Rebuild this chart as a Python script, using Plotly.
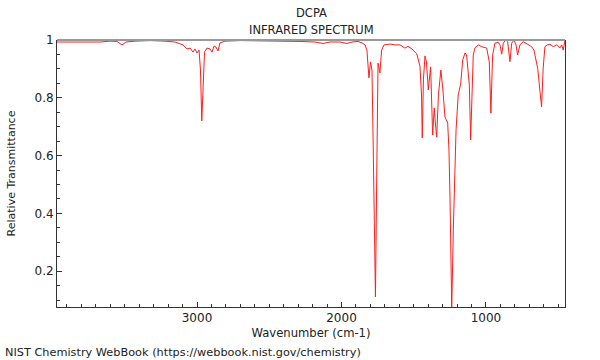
import plotly.graph_objects as go

wavenumber = [3969, 3879, 3775, 3671, 3602, 3554, 3519, 3491, 3429, 3325, 3221, 3152, 3097, 3069, 3048,
              3028, 3014, 3000, 2986, 2976, 2967, 2958, 2948, 2931, 2910, 2896, 2882, 2869, 2855, 2841,
              2806, 2702, 2564, 2426, 2287, 2183, 2128, 2080, 2010, 1962, 1927, 1886, 1858, 1837, 1824,
              1810, 1799, 1789, 1779, 1765, 1754, 1747, 1734, 1722, 1706, 1664, 1630, 1595, 1561, 1540,
              1512, 1479, 1457, 1446, 1441, 1433, 1422, 1412, 1399, 1383, 1369, 1358, 1349, 1341, 1329,
              1312, 1298, 1284, 1265, 1256, 1249, 1237, 1226, 1214, 1207, 1192, 1175, 1161, 1145, 1134,
              1121, 1115, 1106, 1097, 1088, 1076, 1053, 1030, 995, 977, 966, 954, 938, 915, 903,
              891, 880, 864, 850, 834, 822, 806, 792, 781, 765, 742, 707, 684, 668, 654,
              642, 626, 615, 604, 592, 576, 557, 534, 511, 488, 476, 465, 457, 453]
transmittance = [0.993, 0.993, 0.995, 0.993, 0.996, 0.995, 0.983, 0.993, 0.996, 0.998, 0.996, 0.993, 0.983, 0.969, 0.972,
                 0.958, 0.969, 0.955, 0.965, 0.896, 0.720, 0.862, 0.958, 0.972, 0.969, 0.958, 0.979, 0.976, 0.962, 0.990,
                 0.996, 0.998, 0.996, 0.996, 0.995, 0.993, 0.988, 0.993, 0.993, 0.988, 0.993, 0.995, 0.990, 0.983, 0.965,
                 0.869, 0.924, 0.896, 0.585, 0.111, 0.619, 0.920, 0.886, 0.965, 0.983, 0.986, 0.983, 0.983, 0.972, 0.978,
                 0.969, 0.952, 0.910, 0.810, 0.661, 0.862, 0.945, 0.924, 0.827, 0.907, 0.671, 0.765, 0.706, 0.664, 0.810,
                 0.896, 0.827, 0.734, 0.713, 0.619, 0.457, 0.073, 0.343, 0.550, 0.689, 0.810, 0.848, 0.931, 0.955, 0.948,
                 0.879, 0.844, 0.654, 0.844, 0.948, 0.973, 0.983, 0.977, 0.972, 0.924, 0.747, 0.948, 0.989, 0.992, 0.983,
                 0.951, 0.989, 1.000, 0.994, 0.925, 0.989, 1.000, 0.983, 0.948, 0.983, 0.994, 0.985, 0.977, 0.965, 0.925,
                 0.902, 0.821, 0.769, 0.903, 0.977, 0.983, 0.985, 0.977, 0.983, 0.973, 0.983, 0.965, 0.993, 1.000]

title_lines = ["DCPA", "INFRARED SPECTRUM"]
x_title = "Wavenumber (cm-1)"
y_title = "Relative Transmittance"
footer = "NIST Chemistry WebBook (https://webbook.nist.gov/chemistry)"

FONT = "DejaVu Sans"
TXT = "#222222"

fig = go.Figure()
fig.add_trace(go.Scatter(x=wavenumber, y=transmittance, mode="lines",
                         line=dict(color="rgb(255,30,30)", width=1), hoverinfo="skip"))

fig.update_layout(
    width=600, height=360,
    margin=dict(l=57, r=35, t=40, b=53),
    paper_bgcolor="white", plot_bgcolor="white",
    showlegend=False,
    font=dict(family=FONT, size=12, color=TXT),
    xaxis=dict(range=[3969, 453], showgrid=False, zeroline=False,
               showline=True, linecolor="#333333", linewidth=1,
               ticks="inside", ticklen=5, tickcolor="#333333", dtick=1000, tick0=0,
               minor=dict(ticks="inside", ticklen=3, dtick=100, tickcolor="#333333"),
               tickfont=dict(family=FONT, size=12, color=TXT),
               title=dict(text=x_title, standoff=4, font=dict(family=FONT, size=11.6, color=TXT))),
    yaxis=dict(range=[0.076, 1.0], showgrid=False, zeroline=False,
               showline=True, linecolor="#333333", linewidth=1, mirror=True,
               ticks="inside", ticklen=5, tickcolor="#333333", dtick=0.2, tick0=0,
               minor=dict(ticks="inside", ticklen=3, dtick=0.05, tickcolor="#333333"),
               tickfont=dict(family=FONT, size=12, color=TXT),
               title=dict(text=y_title, standoff=16, font=dict(family=FONT, size=11, color=TXT))),
)

fig.add_shape(type="line", xref="paper", yref="paper", x0=0, x1=1, y0=1, y1=1,
              line=dict(color="#999999", width=2))

fig.add_annotation(text=title_lines[0], xref="paper", yref="paper", x=0.5, y=1,
                   yanchor="middle", yshift=27, showarrow=False,
                   font=dict(family=FONT, size=11.5, color=TXT))
fig.add_annotation(text=title_lines[1], xref="paper", yref="paper", x=0.5, y=1,
                   yanchor="middle", yshift=10, showarrow=False,
                   font=dict(family=FONT, size=11.5, color=TXT))
fig.add_annotation(text=footer, xref="paper", yref="paper", x=(3 - 57) / 508, y=0,
                   xanchor="left", yanchor="middle", yshift=-45, showarrow=False,
                   font=dict(family=FONT, size=11.3, color=TXT))

fig.write_html("out.html", config={"displayModeBar": False},
               post_script="document.body.style.margin='0';")
